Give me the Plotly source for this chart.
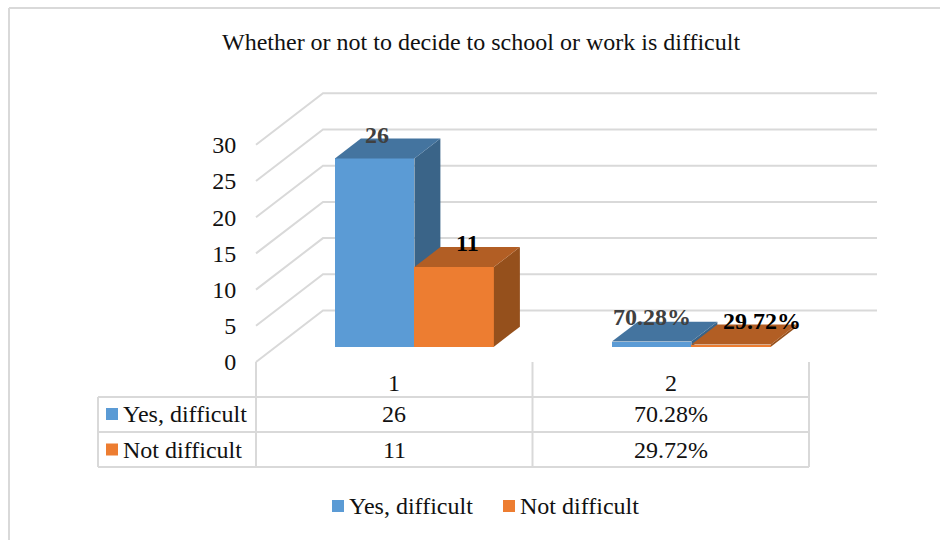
import plotly.graph_objects as go

# ---- data ----
categories = [1, 2]
category_labels = ["1", "2"]
series_names = ["Yes, difficult", "Not difficult"]
yes_values = [26, 0.7028]
not_values = [11, 0.2972]
yes_labels = ["26", "70.28%"]
not_labels = ["11", "29.72%"]
y_ticks = [0, 5, 10, 15, 20, 25, 30]

# ---- styles ----
FONT = "Liberation Serif"
GRID = "#d9d9d9"
BLUE = ("#5B9BD5", "#44749F", "#3A6488")
ORANGE = ("#ED7D31", "#B25E24", "#95501C")

W, H = 940, 540
PX_X = 277.0     # pixels per category
PX_Y = 7.24      # pixels per value unit
X0_PX, Y0_PX = 394.5, 362.0  # pixel of category 1 / value 0 on front plane

xrange_ = [1 - X0_PX / PX_X, 1 + (W - X0_PX) / PX_X]
yrange_ = [(Y0_PX - H) / PX_Y, Y0_PX / PX_Y]

# oblique depth vector of the whole chart floor
DX = 67.0 / PX_X
DY = 51.5 / PX_Y
BAR_W = 79.5 / PX_X
D_FRONT, D_BACK = 0.297, 0.685


def proj(x, v, d):
    return x + d * DX, v + d * DY


def px(p):
    return p / W


def py(p):
    return 1 - p / H


fig = go.Figure()

# ---- wall grid (base axes) ----
for v in y_ticks:
    a = proj(0.5, v, 0)
    b = proj(0.5, v, 1)
    c = proj(2.5, v, 1)
    fig.add_trace(go.Scatter(
        x=[a[0], b[0], c[0]], y=[a[1], b[1], c[1]], mode="lines",
        line=dict(color=GRID, width=2), showlegend=False, hoverinfo="skip"))


def add_series(name, values, colors, left, axis):
    xa, ya = axis
    xs = [c + D_FRONT * DX + left * BAR_W for c in categories]
    bases = [D_FRONT * DY for _ in categories]
    fig.add_trace(go.Bar(
        x=xs, y=values, base=bases, width=BAR_W, offset=0, name=name,
        marker=dict(color=colors[0], line=dict(width=0)), showlegend=False,
        xaxis=xa, yaxis=ya, hoverinfo="skip"))
    for x, v in zip(xs, values):
        x2 = x + BAR_W
        top = [proj(x - D_FRONT * DX, v, D_FRONT), proj(x2 - D_FRONT * DX, v, D_FRONT),
               proj(x2 - D_FRONT * DX, v, D_BACK), proj(x - D_FRONT * DX, v, D_BACK)]
        side = [proj(x2 - D_FRONT * DX, 0, D_FRONT), proj(x2 - D_FRONT * DX, v, D_FRONT),
                proj(x2 - D_FRONT * DX, v, D_BACK), proj(x2 - D_FRONT * DX, 0, D_BACK)]
        for poly, col in ((side, colors[2]), (top, colors[1])):
            fig.add_trace(go.Scatter(
                x=[p[0] for p in poly], y=[p[1] for p in poly], mode="lines",
                fill="toself", fillcolor=col, line=dict(width=0, color=col),
                xaxis=xa, yaxis=ya, showlegend=False, hoverinfo="skip"))


add_series(series_names[0], yes_values, BLUE, -1, ("x2", "y2"))
add_series(series_names[1], not_values, ORANGE, 0, ("x3", "y3"))

# ---- axes ----
overlay = dict(range=xrange_, visible=False, domain=[0, 1], fixedrange=True)
overlay_y = dict(range=yrange_, visible=False, domain=[0, 1], fixedrange=True)
fig.update_layout(
    width=W, height=H, margin=dict(l=0, r=0, t=0, b=0),
    paper_bgcolor="white", plot_bgcolor="white",
    font=dict(family=FONT, color="#111111", size=24),
    barmode="overlay", bargap=0,
    xaxis=dict(range=xrange_, visible=False, domain=[0, 1], fixedrange=True),
    yaxis=dict(range=yrange_, domain=[0, 1], fixedrange=True, zeroline=False,
               showgrid=False, showline=False, tickvals=y_ticks,
               ticktext=[str(t) for t in y_ticks], ticks="outside", ticklen=15,
               tickcolor="rgba(0,0,0,0)", anchor="free", side="left",
               position=256 / W, tickfont=dict(family=FONT, size=24, color="#111111")),
    xaxis2=dict(overlay, overlaying="x", anchor="y2"),
    yaxis2=dict(overlay_y, overlaying="y", anchor="x2"),
    xaxis3=dict(overlay, overlaying="x", anchor="y3"),
    yaxis3=dict(overlay_y, overlaying="y", anchor="x3"),
    showlegend=False,
)

# ---- table and frame lines ----
shapes = []


def line(x0, y0, x1, y1, width=2):
    shapes.append(dict(type="line", xref="paper", yref="paper", x0=px(x0), y0=py(y0),
                       x1=px(x1), y1=py(y1), line=dict(color=GRID, width=width)))


ROW_Y = [397, 432, 467]
COL_X = [98, 256, 532.5, 809]
for y in ROW_Y:
    line(COL_X[0], y, COL_X[-1], y)
line(COL_X[0], ROW_Y[0], COL_X[0], ROW_Y[-1])
for x in COL_X[1:]:
    line(x, Y0_PX, x, ROW_Y[-1])
# outer frame
line(9, 8, W, 8)
line(9, 8, 9, H)


def key(x, y, col):
    shapes.append(dict(type="rect", xref="paper", yref="paper", x0=px(x), x1=px(x + 12),
                       y0=py(y - 6), y1=py(y + 6), fillcolor=col, line=dict(width=0)))


# table legend keys and bottom legend keys
key(106, 414, BLUE[0])
key(106, 449.5, ORANGE[0])
key(332, 506, BLUE[0])
key(503, 506, ORANGE[0])
fig.update_layout(shapes=shapes)

# ---- texts ----
ann = []


def text(x, y, s, anchor="center", size=24, color="#111111"):
    ann.append(dict(xref="paper", yref="paper", x=px(x), y=py(y), text=s,
                    showarrow=False, xanchor=anchor, yanchor="middle",
                    font=dict(family=FONT, size=size, color=color)))


text(481, 42, "Whether or not to decide to school or work is difficult", size=24)

# category labels and table cells
for i, lab in enumerate(category_labels):
    cx = (COL_X[i + 1] + COL_X[i + 2]) / 2
    text(cx, 383, lab)
    text(cx, 414, yes_labels[i])
    text(cx, 450, not_labels[i])
text(121, 414, series_names[0], "left")
text(121, 449.5, series_names[1], "left")
# bottom legend labels
text(347, 506, series_names[0], "left")
text(518, 506, series_names[1], "left")

# data labels anchored at bar tops
label_spec = [
    (yes_labels, yes_values, -0.5, "#404040", [(2, -23), (0, -25)]),
    (not_labels, not_values, 0.5, "#000000", [(13, -24), (31, -24)]),
]
for labels, values, pos, col, shifts in label_spec:
    for c, v, s, (sx, sy) in zip(categories, values, labels, shifts):
        xd, yd = proj(c + pos * BAR_W, v, D_FRONT)
        ann.append(dict(x=xd, y=yd, xref="x", yref="y", text=f"<b>{s}</b>", showarrow=False,
                        xshift=sx, yshift=-sy, xanchor="center", yanchor="middle",
                        font=dict(family=FONT, size=24, color=col)))
fig.update_layout(annotations=ann)

fig.write_html("out.html", config=dict(displayModeBar=False),
               post_script="document.body.style.margin='0';")
